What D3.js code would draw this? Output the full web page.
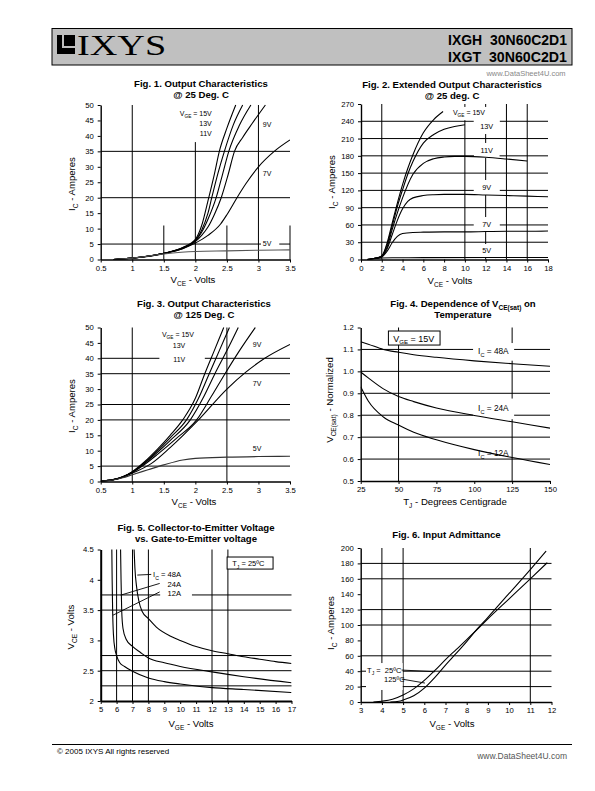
<!DOCTYPE html>
<html><head><meta charset="utf-8">
<script src="https://cdn.jsdelivr.net/npm/d3@7"></script>
<style>body{margin:0;background:#fff}svg{display:block}</style>
</head><body><script>
// ---------- DATA ----------
// Fig 1: Output characteristics @25C (VCE volts, IC amps)
const fig1XTicks=[0.5,1,1.5,2,2.5,3,3.5];
const fig1YTicks=[0,5,10,15,20,25,30,35,40,45,50];
const fig1_15V=[[0.7,0],[1,0.45],[1.5,2.0],[1.8,3.9],[2,6.5],[2.1,11],[2.2,19],[2.3,27.5],[2.38,35],[2.5,42.5],[2.64,50]];
const fig1_13V=[[0.7,0],[1,0.45],[1.5,2.0],[1.8,3.8],[2,6.2],[2.1,9.5],[2.2,15],[2.26,20],[2.36,28],[2.46,35],[2.6,43.5],[2.75,50]];
const fig1_11V=[[0.7,0],[1,0.45],[1.5,2.0],[1.8,3.7],[2,6],[2.1,8.8],[2.2,13],[2.33,20],[2.43,27.5],[2.53,35],[2.7,43.5],[2.88,50]];
const fig1_9V=[[0.7,0],[1,0.45],[1.5,2.0],[1.8,3.6],[2,5.8],[2.1,7.8],[2.2,10.5],[2.3,14.5],[2.41,20],[2.52,27.5],[2.62,35],[2.75,39.5],[2.9,44],[3.11,50]];
const fig1_7V=[[0.7,0],[1,0.45],[1.5,1.9],[1.8,3.5],[2,5.3],[2.2,7.8],[2.4,11.5],[2.5,14.5],[2.66,20],[2.8,24.5],[3,30],[3.25,35],[3.5,38.7]];
const fig1_5V=[[0.7,0],[1,0.45],[1.5,1.8],[2,2.6],[2.5,2.8],[3,3.0],[3.5,3.1]];

// Fig 2: Extended output characteristics @25C
const fig2XTicks=[0,2,4,6,8,10,12,14,16,18];
const fig2YTicks=[0,30,60,90,120,150,180,210,240,270];
const fig2_15V=[[0.6,0],[1,1],[1.5,2.5],[2,6],[2.5,28],[3,63],[3.5,98],[4,130],[4.5,158],[5,182],[6,220],[7,243],[7.9,257]];
const fig2_13V=[[0.6,0],[1,1],[1.5,2.5],[2,6],[2.5,25],[3,58],[3.5,92],[4,121],[4.5,148],[5,170],[6,202],[7,217],[8,226],[9,231],[10,234]];
const fig2_11V=[[0.6,0],[1,1],[1.5,2.5],[2,5.5],[2.5,21],[3,52],[3.5,81],[4,107],[5,148],[6,167],[7,175],[8,178],[9,179],[10,179],[12,177.5],[14,174.5],[16,171]];
const fig2_9V=[[0.6,0],[1,1],[1.5,2.5],[2,5],[2.5,18],[3,43],[3.5,68],[4,88],[4.5,101],[5,107],[6,111],[7,112.5],[8,113],[10,113],[12,112],[14,111],[16,110],[18,109]];
const fig2_7V=[[0.6,0],[1,1],[1.5,2.5],[2,4.5],[2.5,14],[3,29],[3.5,40],[4,45],[5,47],[6,47.5],[8,48],[10,48],[12,48.5],[14,49],[16,49],[18,49.5]];
const fig2_5V=[[0.6,0],[1,0.8],[1.5,1.8],[2,2.6],[3,3],[6,3.2],[18,3.5]];

// Fig 3: Output characteristics @125C
const fig3XTicks=[0.5,1,1.5,2,2.5,3,3.5];
const fig3YTicks=[0,5,10,15,20,25,30,35,40,45,50];
const fig3_15V=[[0.5,0.1],[0.7,0.6],[0.85,1.5],[1,3.2],[1.2,6.5],[1.4,10.5],[1.6,15],[1.8,20],[2,27],[2.14,34.5],[2.3,42.5],[2.45,50]];
const fig3_13V=[[0.5,0.1],[0.7,0.6],[0.85,1.5],[1,3.1],[1.2,6.2],[1.4,10],[1.6,14.2],[1.86,20],[2.05,27],[2.22,35],[2.38,42.5],[2.54,50]];
const fig3_11V=[[0.5,0.1],[0.7,0.6],[0.85,1.5],[1,3.0],[1.2,6],[1.4,9.5],[1.6,13.3],[1.92,20],[2.12,27],[2.31,35],[2.5,42.5],[2.68,50]];
const fig3_9V=[[0.5,0.1],[0.7,0.6],[0.85,1.45],[1,2.9],[1.2,5.6],[1.4,8.8],[1.7,14],[2.02,20],[2.25,27.5],[2.47,35],[2.7,42.5],[2.95,50]];
const fig3_7V=[[0.5,0.1],[0.7,0.55],[0.85,1.4],[1,2.7],[1.3,5.8],[1.6,11],[2.05,20],[2.5,30],[2.8,35.5],[3.1,40],[3.5,44.5]];
const fig3_5V=[[0.5,0.1],[0.7,0.5],[0.85,1.2],[1,2.2],[1.25,3.8],[1.5,5.4],[1.8,7],[2,7.5],[2.5,7.9],[3,8.1],[3.5,8.2]];

// Fig 4: VCE(sat) normalized vs TJ
const fig4XTicks=[25,50,75,100,125,150];
const fig4YTicks=[0.5,0.6,0.7,0.8,0.9,1.0,1.1,1.2];
const fig4_48A=[[25,1.135],[30,1.124],[40,1.1],[50,1.087],[60,1.076],[75,1.064],[100,1.048],[125,1.035],[150,1.023]];
const fig4_24A=[[25,0.997],[30,0.97],[40,0.92],[50,0.885],[60,0.862],[75,0.833],[100,0.799],[125,0.77],[150,0.741]];
const fig4_12A=[[25,0.93],[30,0.865],[40,0.792],[50,0.755],[60,0.722],[75,0.688],[100,0.643],[125,0.607],[150,0.575]];

// Fig 5: VCE vs VGE
const fig5XTicks=[5,6,7,8,9,10,11,12,13,14,15,16,17];
const fig5YTicks=[2,2.5,3,3.5,4,4.5];
const fig5_48A=[[7.1,4.5],[7.15,4.2],[7.25,3.9],[7.4,3.65],[7.6,3.48],[8,3.36],[8.5,3.22],[9.4,3.07],[10,3.0],[11,2.9],[12,2.83],[13,2.78],[14,2.73],[15,2.69],[16,2.65],[17,2.62]];
const fig5_24A=[[6.25,4.5],[6.28,4.0],[6.32,3.5],[6.4,3.2],[6.6,3.02],[7,2.9],[7.5,2.8],[8,2.71],[9,2.63],[10,2.57],[12,2.48],[14,2.4],[17,2.3]];
const fig5_12A=[[5.7,4.5],[5.72,4.0],[5.75,3.5],[5.8,3.1],[5.9,2.85],[6.0,2.75],[6.2,2.63],[6.5,2.57],[7,2.49],[8,2.38],[9,2.32],[10,2.28],[12,2.22],[14,2.19],[17,2.14]];

// Fig 6: Input admittance
const fig6XTicks=[3,4,5,6,7,8,9,10,11,12];
const fig6YTicks=[0,20,40,60,80,100,120,140,160,180,200];
const fig6_125C=[[3.6,0],[4,1],[4.5,3.5],[5,9],[5.5,17],[6,28],[6.5,41],[7,55],[7.5,68],[8,81],[8.5,94.5],[9,108],[10,134],[11,160],[11.8,181]];
const fig6_25C=[[4.4,0],[4.8,1],[5,2.5],[5.5,8],[6,18],[6.5,32],[7,48],[7.5,63],[8,78.5],[8.5,95],[9,110],[10,141],[11,172],[11.75,196]];

// ---------- DRAWING ----------
const FONT='"Liberation Sans", Arial, Helvetica, sans-serif';
const svg=d3.select("body").append("svg").attr("width",595).attr("height",791)
  .attr("font-family",FONT);

function rich(t,parts,fs){
  let off=0;
  parts.forEach(p=>{
    const sub=typeof p!=="string";
    const s=sub?p.s:p;
    const shift=sub?fs*0.32:0;
    const ts=t.append("tspan").text(s).attr("dy",shift-off);
    if(sub) ts.attr("font-size",fs*0.68);
    off=shift;
  });
  return t;
}

// Header
svg.append("rect").attr("x",52).attr("y",28.5).attr("width",520).attr("height",36.5)
  .attr("fill","#c0c0c0").attr("stroke","#000").attr("stroke-width",1);
const logo=svg.append("g");
logo.append("rect").attr("x",57).attr("y",35).attr("width",18).attr("height",19).attr("fill","#000");
logo.append("rect").attr("x",62).attr("y",35).attr("width",2).attr("height",13).attr("fill","#c0c0c0");
logo.append("rect").attr("x",62).attr("y",46).attr("width",13).attr("height",2).attr("fill","#c0c0c0");
svg.append("text").attr("transform","translate(77,55) scale(1.32,1)").attr("font-family",'"Liberation Serif", "Times New Roman", serif')
  .attr("font-size",29).text("IXYS");
svg.append("text").attr("x",567).attr("y",45).attr("text-anchor","end").attr("font-size",14.5).attr("font-weight","bold")
  .attr("textLength",119).attr("lengthAdjust","spacingAndGlyphs").attr("xml:space","preserve").text("IXGH  30N60C2D1");
svg.append("text").attr("x",567).attr("y",62).attr("text-anchor","end").attr("font-size",14.5).attr("font-weight","bold")
  .attr("textLength",119).attr("lengthAdjust","spacingAndGlyphs").attr("xml:space","preserve").text("IXGT  30N60C2D1");
svg.append("text").attr("x",526).attr("y",76).attr("text-anchor","middle").attr("font-size",7.5).attr("fill","#888").text("www.DataSheet4U.com");

// Footer
svg.append("line").attr("x1",52).attr("x2",572).attr("y1",744.5).attr("y2",744.5).attr("stroke","#000").attr("stroke-width",1);
svg.append("text").attr("x",57).attr("y",754).attr("font-size",8).text("© 2005 IXYS All rights reserved");
svg.append("text").attr("x",567).attr("y",759).attr("text-anchor","end").attr("font-size",8.5).attr("fill","#555").text("www.DataSheet4U.com");

let clipId=0;
function drawChart(c){
  const x=d3.scaleLinear().domain(c.xd).range([c.l,c.r]);
  const y=d3.scaleLinear().domain(c.yd).range([c.b,c.t]);
  const g=svg.append("g");
  const gridG=g.append("g").attr("stroke","#000").attr("stroke-width",1);
  const bgG=g.append("g");
  const serG=g.append("g");
  const leadG=g.append("g").attr("stroke","#000").attr("stroke-width",0.9);
  const txtG=g.append("g");
  const axG=g.append("g");

  (c.hgrid||[]).forEach(h=>{
    const v=h[0],a=h[1]??c.xd[0],b=h[2]??c.xd[1];
    gridG.append("line").attr("x1",x(a)).attr("x2",x(b)).attr("y1",y(v)).attr("y2",y(v));
  });
  (c.vgrid||[]).forEach(h=>{
    const v=h[0],a=h[1]??c.yd[0],b=h[2]??c.yd[1];
    gridG.append("line").attr("x1",x(v)).attr("x2",x(v)).attr("y1",y(a)).attr("y2",y(b));
  });

  const id="clip"+(clipId++);
  g.append("clipPath").attr("id",id).append("rect").attr("x",c.l).attr("y",c.t-1).attr("width",c.r-c.l).attr("height",c.b-c.t+1);
  const line=d3.line().x(d=>x(d[0])).y(d=>y(d[1])).curve(d3.curveMonotoneX);
  serG.attr("clip-path",`url(#${id})`);
  c.series.forEach(s=>{
    serG.append("path").attr("d",line(s.d)).attr("fill","none")
      .attr("stroke",s.c||"#000").attr("stroke-width",s.w||1.1);
  });

  (c.boxes||[]).forEach(b=>{
    bgG.append("rect").attr("x",x(b[0])).attr("y",y(b[3])).attr("width",x(b[1])-x(b[0])).attr("height",y(b[2])-y(b[3]))
      .attr("fill","#fff").attr("stroke",b[4]?"#000":"none").attr("stroke-width",1);
  });
  (c.leaders||[]).forEach(l=>{
    leadG.append("line").attr("x1",x(l[0])).attr("y1",y(l[1])).attr("x2",x(l[2])).attr("y2",y(l[3]));
  });
  (c.labels||[]).forEach(L=>{
    const t=txtG.append("text").attr("x",x(L.x)).attr("y",y(L.y)).attr("font-size",L.fs)
      .attr("text-anchor",L.a||"start").attr("xml:space","preserve");
    rich(t,L.p,L.fs);
    if(L.pad){
      const bb=t.node().getBBox();
      bgG.append("rect").attr("x",bb.x-L.pad[0]).attr("y",bb.y-L.pad[1])
        .attr("width",bb.width+2*L.pad[0]).attr("height",bb.height+2*L.pad[1]).attr("fill","#fff");
    }
  });

  const aw=c.aw||1.4;
  const yAx=d3.axisLeft(y).tickValues(c.yTicks).tickSize(3).tickSizeOuter(0).tickPadding(4).tickFormat(c.yFmt||(d=>String(d)));
  const xAx=d3.axisBottom(x).tickValues(c.xTicks).tickSize(3).tickSizeOuter(0).tickPadding(3).tickFormat(c.xFmt||(d=>String(d)));
  [axG.append("g").attr("transform",`translate(${c.l},0)`).call(yAx),
   axG.append("g").attr("transform",`translate(0,${c.b})`).call(xAx)].forEach(a=>{
    a.attr("font-family",FONT).attr("font-size",7.7);
    a.select(".domain").attr("stroke","#000").attr("stroke-width",aw);
    a.selectAll(".tick line").attr("stroke","#000").attr("stroke-width",1);
    a.selectAll(".tick text").attr("fill","#000");
  });

  // titles
  c.title.forEach((tl,i)=>{
    const t=svg.append("text").attr("x",c.tx).attr("y",c.ty+i*11).attr("text-anchor","middle")
      .attr("font-size",9.6).attr("font-weight","bold");
    rich(t,tl,9.6);
  });
  rich(svg.append("text").attr("x",c.xtx).attr("y",c.xty).attr("text-anchor","middle").attr("font-size",9.6),c.xTitle,9.6);
  rich(svg.append("text").attr("transform",`translate(${c.ytx},${c.yty}) rotate(-90)`).attr("text-anchor","middle").attr("font-size",9.6),c.yTitle,9.6);
}

// ---- Fig 1
drawChart({l:100.7,r:290,t:105,b:259.5,xd:[0.5,3.5],yd:[0,50],xTicks:fig1XTicks,yTicks:fig1YTicks,
  hgrid:[[35],[20],[5,0.5,3.04],[5,3.33,3.5]],
  vgrid:[[1],[2,0,38],[3],[1.5,0,11],[2.5,0,11],[3.5,0,11]],
  series:[{d:fig1_15V},{d:fig1_13V},{d:fig1_11V},{d:fig1_9V},{d:fig1_7V},{d:fig1_5V,c:"#555"}],
  labels:[
    {p:["V",{s:"GE"}," = 15V"],x:2.26,y:46.6,a:"end",fs:7},
    {p:["13V"],x:2.26,y:43.2,a:"end",fs:7},
    {p:["11V"],x:2.26,y:40,a:"end",fs:7},
    {p:["9V"],x:3.07,y:42.9,fs:7},
    {p:["7V"],x:3.07,y:27,fs:7},
    {p:["5V"],x:3.07,y:4.4,fs:7}],
  title:[["Fig. 1. Output Characteristics"],["@ 25 Deg. C"]],tx:201,ty:87,
  xTitle:["V",{s:"CE"}," - Volts"],xtx:193,xty:283,
  yTitle:["I",{s:"C"}," - Amperes"],ytx:75,yty:184});
// ---- Fig 2
drawChart({l:361,r:548,t:104,b:259.5,xd:[0,18],yd:[0,270],xTicks:fig2XTicks,yTicks:fig2YTicks,
  hgrid:[[30],[60],[90],[120],[150],[180],[210],[240]],
  vgrid:[[2],[10],[12],[14],[16]],
  series:[{d:fig2_15V},{d:fig2_13V},{d:fig2_11V},{d:fig2_9V},{d:fig2_7V},{d:fig2_5V}],
  labels:[
    {p:["V",{s:"GE"}," = 15V"],x:8.85,y:251,fs:7,pad:[3,2]},
    {p:["13V"],x:12.1,y:226.6,a:"middle",fs:7.3,pad:[6.5,3]},
    {p:["11V"],x:12.1,y:185,a:"middle",fs:7.3,pad:[6.5,3]},
    {p:["9V"],x:12.1,y:120.7,a:"middle",fs:7.3,pad:[8.5,3]},
    {p:["7V"],x:12.1,y:56.4,a:"middle",fs:7.3,pad:[8.5,3]},
    {p:["5V"],x:12.1,y:11.3,a:"middle",fs:7.3,pad:[8.5,2]}],
  title:[["Fig. 2. Extended Output Characteristics"],["@ 25 deg. C"]],tx:452,ty:87.5,
  xTitle:["V",{s:"CE"}," - Volts"],xtx:450,xty:283.5,
  yTitle:["I",{s:"C"}," - Amperes"],ytx:335,yty:182});
// ---- Fig 3
drawChart({l:100.7,r:290,t:327.5,b:481.5,xd:[0.5,3.5],yd:[0,50],xTicks:fig3XTicks,yTicks:fig3YTicks,
  hgrid:[[40,0.5,1.43],[40,2.15,3.5],[35],[25],[20],[5]],
  vgrid:[[1],[2.5]],
  series:[{d:fig3_15V},{d:fig3_13V},{d:fig3_11V},{d:fig3_9V},{d:fig3_7V},{d:fig3_5V,c:"#333"}],
  labels:[
    {p:["V",{s:"GE"}," = 15V"],x:1.47,y:46.9,fs:7},
    {p:["13V"],x:1.84,y:43.5,a:"end",fs:7},
    {p:["11V"],x:1.84,y:38.8,a:"end",fs:7},
    {p:["9V"],x:2.91,y:43.7,fs:7},
    {p:["7V"],x:2.91,y:31,fs:7},
    {p:["5V"],x:2.91,y:9.9,fs:7}],
  title:[["Fig. 3. Output Characteristics"],["@ 125 Deg. C"]],tx:204,ty:306.8,
  xTitle:["V",{s:"CE"}," - Volts"],xtx:194,xty:505,
  yTitle:["I",{s:"C"}," - Amperes"],ytx:75,yty:406});
// ---- Fig 4
drawChart({l:360.7,r:550,t:327.5,b:481,xd:[25,150],yd:[0.5,1.2],xTicks:fig4XTicks,yTicks:fig4YTicks,
  yFmt:d3.format(".1f"),
  hgrid:[[1.1],[1.0],[0.9],[0.8],[0.7],[0.6]],
  vgrid:[[50],[125]],
  boxes:[[43.3,77.4,1.12,1.184,true]],
  series:[{d:fig4_48A},{d:fig4_24A},{d:fig4_12A}],
  labels:[
    {p:["V",{s:"GE"}," = 15V"],x:46.5,y:1.136,fs:9},
    {p:["I",{s:"C"}," = 48A"],x:102.5,y:1.079,fs:8.3,pad:[5,3]},
    {p:["I",{s:"C"}," = 24A"],x:102.5,y:0.819,fs:8.3,pad:[5,4.5]},
    {p:["I",{s:"C"}," = 12A"],x:102.5,y:0.613,fs:8.3}],
  title:[["Fig. 4. Dependence of V",{s:"CE(sat)"}," on"],["Temperature"]],tx:463,ty:306.8,
  xTitle:["T",{s:"J"}," - Degrees Centigrade"],xtx:455,xty:504.5,
  yTitle:["V",{s:"CE(sat)"}," - Normalized"],ytx:333,yty:400});
// ---- Fig 5
drawChart({l:100.7,r:291.5,t:549.5,b:701,xd:[5,17],yd:[2,4.5],xTicks:fig5XTicks,yTicks:fig5YTicks,aw:2,
  hgrid:[[3.75,5,8.74],[3.75,10.74,17],[3.5],[2.75],[2.5],[2.25]],
  vgrid:[[6],[7],[8],[12],[13]],
  boxes:[[12.95,15.84,4.177,4.376,true]],
  series:[{d:fig5_48A},{d:fig5_24A},{d:fig5_12A}],
  leaders:[[7.3,4.078,8.18,4.089],[6.26,3.747,8.71,3.94],[5.77,3.416,8.71,3.8]],
  labels:[
    {p:["T",{s:"J"}," = 25ºC"],x:13.27,y:4.22,fs:7.5},
    {p:["I",{s:"C"}," = 48A"],x:8.29,y:4.045,fs:7.6},
    {p:["24A"],x:10.05,y:3.887,a:"end",fs:7.6},
    {p:["12A"],x:10.05,y:3.73,a:"end",fs:7.6}],
  title:[["Fig. 5. Collector-to-Emitter Voltage"],["vs. Gate-to-Emitter voltage"]],tx:196,ty:531,
  xTitle:["V",{s:"GE"}," - Volts"],xtx:191,xty:727,
  yTitle:["V",{s:"CE"}," - Volts"],ytx:73.5,yty:627});
// ---- Fig 6
drawChart({l:360.7,r:551.5,t:548,b:702,xd:[3,12],yd:[0,200],xTicks:fig6XTicks,yTicks:fig6YTicks,
  hgrid:[[180],[160],[120],[100],[60],[40],[20]],
  vgrid:[[4],[5],[11]],
  boxes:[[3.25,4.98,15.6,50.6,false]],
  series:[{d:fig6_125C},{d:fig6_25C}],
  leaders:[[4.93,41.5,6.5,39.3],[4.93,29.8,6.03,24.6]],
  labels:[
    {p:["T",{s:"J"}," =  25ºC"],x:3.3,y:37.6,fs:7.5},
    {p:["125ºC"],x:4.1,y:26,fs:7.5}],
  title:[["Fig. 6. Input Admittance"]],tx:446.5,ty:537.8,
  xTitle:["V",{s:"GE"}," - Volts"],xtx:452,xty:727,
  yTitle:["I",{s:"C"}," - Amperes"],ytx:333.5,yty:623});
</script></body></html>
